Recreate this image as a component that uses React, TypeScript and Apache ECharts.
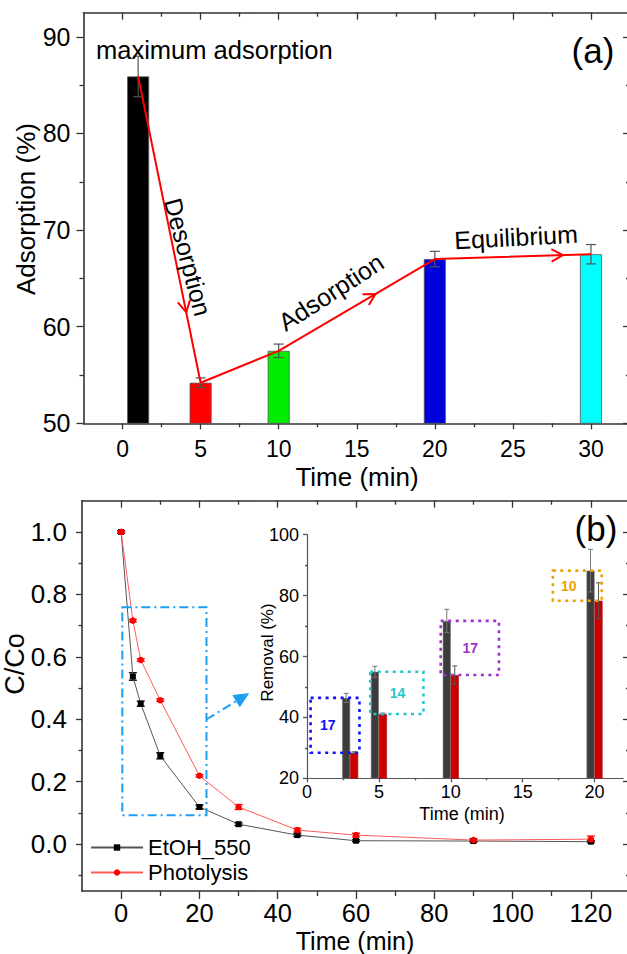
import React, { useEffect, useRef } from 'react';
import * as echarts from 'echarts';

// ---------- Panel (a): adsorption bars ----------
const adsTime = [1, 5, 10, 20, 30];
const adsValue = [85.9, 54.2, 57.5, 67.0, 67.5];
const adsError = [2.1, 0.5, 0.7, 0.8, 1.0];
const adsColors = ['#000000', '#ff0000', '#00ee00', '#0000dd', '#00ffff'];
const adsXTicks = [0, 5, 10, 15, 20, 25, 30];
const adsXMinor = [2.5, 7.5, 12.5, 17.5, 22.5, 27.5];
const adsYTicks = [50, 60, 70, 80, 90];
const adsYMinor = [55, 65, 75, 85];

// ---------- Panel (b): C/Co kinetics ----------
const kinTime = [0, 3, 5, 10, 20, 30, 45, 60, 90, 120];
const etohCC0 = [1.0, 0.537, 0.45, 0.283, 0.119, 0.064, 0.029, 0.011, 0.01, 0.008];
const etohErr = [0.004, 0.012, 0.008, 0.01, 0.006, 0.004, 0.004, 0.003, 0.003, 0.003];
const photoCC0 = [1.0, 0.716, 0.59, 0.461, 0.219, 0.119, 0.045, 0.029, 0.013, 0.016];
const photoErr = [0.004, 0.004, 0.004, 0.004, 0.004, 0.008, 0.006, 0.006, 0.005, 0.01];
const kinXTicks = [0, 20, 40, 60, 80, 100, 120];
const kinXMinor = [10, 30, 50, 70, 90, 110];
const kinYTicks = [0, 0.2, 0.4, 0.6, 0.8, 1.0];
const kinYMinor = [-0.1, 0.1, 0.3, 0.5, 0.7, 0.9];

// ---------- Inset: removal (%) ----------
const insetTime = [3, 5, 10, 20];
const insetEtoh = [46.4, 55.0, 71.7, 88.2];
const insetEtohErr = [1.5, 1.8, 3.8, 7.0];
const insetPhoto = [28.4, 41.1, 53.9, 78.3];
const insetPhotoErr = [0.3, 0.3, 3.0, 5.9];
const diffLabels = ['17', '14', '17', '10'];
const insetXTicks = [0, 5, 10, 15, 20];
const insetXMinor = [2.5, 7.5, 12.5, 17.5];
const insetYTicks = [20, 40, 60, 80, 100];
const insetYMinor = [30, 50, 70, 90];

const FONT = '"Liberation Sans", Arial, Helvetica, sans-serif';
const AX = '#333333';

function mkAxis(o: any) {
  return {
    type: 'value',
    gridIndex: o.grid,
    position: o.pos,
    min: o.min,
    max: o.max,
    axisLine: { show: o.line !== false, onZero: false, lineStyle: { color: o.color || AX, width: o.lw || 1.6 } },
    axisTick: { show: true, customValues: o.ticks, length: o.len, inside: !!o.inside, lineStyle: { color: o.color || AX, width: 1.3 } },
    axisLabel: o.labels
      ? { show: true, customValues: o.labels, fontSize: o.fs, margin: o.margin, color: '#000', fontFamily: FONT, formatter: o.fmt || ((v: number) => String(v)) }
      : { show: false },
    splitLine: { show: false },
  };
}

function errRender(color: string, cap: number, dx: number, lw: number) {
  return (params: any, api: any) => {
    const x = api.value(0), y = api.value(1), e = api.value(2);
    const top = api.coord([x, y + e]);
    const bot = api.coord([x, y - e]);
    const cx = top[0] + dx;
    const st = { stroke: color, lineWidth: lw };
    return {
      type: 'group',
      children: [
        { type: 'line', shape: { x1: cx, y1: top[1], x2: cx, y2: bot[1] }, style: st },
        { type: 'line', shape: { x1: cx - cap / 2, y1: top[1], x2: cx + cap / 2, y2: top[1] }, style: st },
        { type: 'line', shape: { x1: cx - cap / 2, y1: bot[1], x2: cx + cap / 2, y2: bot[1] }, style: st },
      ],
    };
  };
}

function txt(text: string, x: number, y: number, fs: number, rot = 0, extra: any = {}) {
  return {
    type: 'text',
    x, y,
    rotation: (rot * Math.PI) / 180,
    z: 100,
    style: { text, fontSize: fs, fontFamily: FONT, fill: '#000', textAlign: 'center', textVerticalAlign: 'middle', ...extra },
  };
}

function buildOption() {
  const GA = { left: 83.5, top: 12.7, width: 546.5, height: 410.6, containLabel: false, outerBoundsMode: 'none' };
  const GB = { left: 82, top: 500.7, width: 548, height: 390.3, containLabel: false, outerBoundsMode: 'none' };
  const GI = { left: 307, top: 534.7, width: 316.3, height: 243.6, containLabel: false, outerBoundsMode: 'none' };

  const xAxis = [
    mkAxis({ grid: 0, pos: 'bottom', min: -2.5, max: 32.5, ticks: adsXTicks, len: 6, labels: adsXTicks, fs: 23, margin: 14 }),
    mkAxis({ grid: 0, pos: 'top', min: -2.5, max: 32.5, ticks: adsXTicks, len: 7, inside: true }),
    mkAxis({ grid: 3, pos: 'bottom', min: -2.5, max: 32.5, ticks: adsXMinor, len: 4, line: false }),
    mkAxis({ grid: 3, pos: 'top', min: -2.5, max: 32.5, ticks: adsXMinor, len: 4, inside: true, line: false }),
    mkAxis({ grid: 1, pos: 'bottom', min: -10, max: 130, ticks: kinXTicks, len: 8, labels: kinXTicks, fs: 25.5, margin: 9 }),
    mkAxis({ grid: 1, pos: 'top', min: -10, max: 130, ticks: kinXTicks, len: 7, inside: true }),
    mkAxis({ grid: 4, pos: 'bottom', min: -10, max: 130, ticks: kinXMinor, len: 5, line: false }),
    mkAxis({ grid: 4, pos: 'top', min: -10, max: 130, ticks: kinXMinor, len: 4, inside: true, line: false }),
    mkAxis({ grid: 2, pos: 'bottom', min: 0, max: 22, ticks: insetXTicks, len: 4, labels: insetXTicks, fs: 18, margin: 5, color: '#555', lw: 1.2 }),
    mkAxis({ grid: 5, pos: 'bottom', min: 0, max: 22, ticks: insetXMinor, len: 2, line: false, color: '#555' }),
  ];
  const yAxis = [
    mkAxis({ grid: 0, pos: 'left', min: 50, max: 92.5, ticks: adsYTicks, len: 7, labels: adsYTicks, fs: 25, margin: 13 }),
    mkAxis({ grid: 0, pos: 'right', min: 50, max: 92.5, ticks: adsYTicks, len: 7, inside: true }),
    mkAxis({ grid: 3, pos: 'left', min: 50, max: 92.5, ticks: adsYMinor, len: 4, line: false }),
    mkAxis({ grid: 3, pos: 'right', min: 50, max: 92.5, ticks: adsYMinor, len: 4, inside: true, line: false }),
    mkAxis({ grid: 1, pos: 'left', min: -0.15, max: 1.1, ticks: kinYTicks, len: 6, labels: kinYTicks, fs: 26, margin: 15, fmt: (v: number) => v.toFixed(1) }),
    mkAxis({ grid: 1, pos: 'right', min: -0.15, max: 1.1, ticks: kinYTicks, len: 7, inside: true }),
    mkAxis({ grid: 4, pos: 'left', min: -0.15, max: 1.1, ticks: kinYMinor, len: 3.5, line: false }),
    mkAxis({ grid: 4, pos: 'right', min: -0.15, max: 1.1, ticks: kinYMinor, len: 4, inside: true, line: false }),
    mkAxis({ grid: 2, pos: 'left', min: 20, max: 100, ticks: insetYTicks, len: 4, labels: insetYTicks, fs: 18, margin: 8, color: '#555', lw: 1.2 }),
    mkAxis({ grid: 5, pos: 'left', min: 20, max: 100, ticks: insetYMinor, len: 2, line: false, color: '#555' }),
  ];

  const arrowSegs = [0, 2, 3];
  const arrowFrac = [0.77, 0.62, 0.82];

  const diffBoxX = [[0.25, 3.65], [4.4, 8.1], [9.3, 13.35], [17.1, 20.5]];
  const diffLabelX = [1.45, 6.3, 11.35, 18.2];
  const diffColors = ['#1010ff', '#22c6c6', '#a030d0', '#eba200'];

  const series: any[] = [
    // (a) bars
    {
      type: 'bar', xAxisIndex: 0, yAxisIndex: 0, barWidth: 22, clip: true, z: 2,
      data: adsTime.map((t, i) => ({ value: [t, adsValue[i]], itemStyle: { color: adsColors[i], borderColor: '#555', borderWidth: 0.8 } })),
    },
    {
      type: 'custom', xAxisIndex: 0, yAxisIndex: 0, z: 3, clip: false,
      data: adsTime.map((t, i) => [t, adsValue[i], adsError[i]]),
      encode: { x: 0, y: 1 },
      renderItem: errRender('#555', 10, 0, 1.2),
    },
    {
      type: 'line', xAxisIndex: 0, yAxisIndex: 0, z: 5, symbol: 'none',
      lineStyle: { color: '#ff0000', width: 2 },
      data: adsTime.map((t, i) => [t, adsValue[i]]),
    },
    {
      type: 'custom', xAxisIndex: 0, yAxisIndex: 0, z: 6, clip: false,
      data: arrowSegs.map((s) => [adsTime[s], adsValue[s]]),
      encode: { x: 0, y: 1 },
      renderItem: (params: any, api: any) => {
        const i = params.dataIndex;
        const s = arrowSegs[i];
        const p0 = api.coord([adsTime[s], adsValue[s]]);
        const p1 = api.coord([adsTime[s + 1], adsValue[s + 1]]);
        const f = arrowFrac[i];
        const tx = p0[0] + f * (p1[0] - p0[0]);
        const ty = p0[1] + f * (p1[1] - p0[1]);
        const ang = Math.atan2(p1[1] - p0[1], p1[0] - p0[0]);
        const L = 13, a = 0.5;
        const b1 = [tx - L * Math.cos(ang - a), ty - L * Math.sin(ang - a)];
        const b2 = [tx - L * Math.cos(ang + a), ty - L * Math.sin(ang + a)];
        return { type: 'polyline', shape: { points: [b1, [tx, ty], b2] }, style: { stroke: '#ff0000', lineWidth: 2, fill: 'none' } };
      },
    },
    // (b) lines
    {
      type: 'custom', xAxisIndex: 4, yAxisIndex: 4, z: 3, clip: false,
      data: kinTime.map((t, i) => [t, etohCC0[i], etohErr[i]]),
      encode: { x: 0, y: 1 },
      renderItem: errRender('#000', 8, 0, 1.3),
    },
    {
      type: 'custom', xAxisIndex: 4, yAxisIndex: 4, z: 3, clip: false,
      data: kinTime.map((t, i) => [t, photoCC0[i], photoErr[i]]),
      encode: { x: 0, y: 1 },
      renderItem: errRender('#ff0000', 8, 0, 1.3),
    },
    {
      name: 'EtOH_550', type: 'line', xAxisIndex: 4, yAxisIndex: 4, z: 4,
      symbol: 'rect', symbolSize: 6,
      itemStyle: { color: '#000' }, lineStyle: { color: '#555', width: 1 },
      data: kinTime.map((t, i) => [t, etohCC0[i]]),
    },
    {
      name: 'Photolysis', type: 'line', xAxisIndex: 4, yAxisIndex: 4, z: 4,
      symbol: 'circle', symbolSize: 6.5,
      itemStyle: { color: '#ff0000' }, lineStyle: { color: '#ff5a5a', width: 1 },
      data: kinTime.map((t, i) => [t, photoCC0[i]]),
    },
    // zoom box + arrow on (b)
    {
      type: 'custom', xAxisIndex: 4, yAxisIndex: 4, z: 7, clip: false,
      data: [[0, 0]],
      encode: { x: 0, y: 1 },
      renderItem: (params: any, api: any) => {
        const a = api.coord([0.3, 0.759]);
        const b = api.coord([21.8, 0.093]);
        const s = api.coord([21.85, 0.40]);
        const t = api.coord([32.5, 0.482]);
        const ang = Math.atan2(t[1] - s[1], t[0] - s[0]);
        const hl = 14, hw = 6.5;
        const bx = t[0] - hl * Math.cos(ang), by = t[1] - hl * Math.sin(ang);
        const nx = -Math.sin(ang) * hw, ny = Math.cos(ang) * hw;
        const col = '#1e9ef0';
        return {
          type: 'group',
          children: [
            { type: 'rect', shape: { x: a[0], y: a[1], width: b[0] - a[0], height: b[1] - a[1] }, style: { fill: 'none', stroke: col, lineWidth: 2, lineDash: [9, 4, 2, 4] } },
            { type: 'line', shape: { x1: s[0], y1: s[1], x2: bx, y2: by }, style: { stroke: col, lineWidth: 2, lineDash: [9, 4, 2, 4] } },
            { type: 'polygon', shape: { points: [[t[0], t[1]], [bx + nx, by + ny], [bx - nx, by - ny]] }, style: { fill: col, stroke: col, lineWidth: 1 } },
          ],
        };
      },
    },
    // inset bars
    {
      type: 'bar', xAxisIndex: 8, yAxisIndex: 8, barWidth: 8, barGap: '0%', clip: true, z: 2,
      itemStyle: { color: '#3c3c3c', borderColor: '#777', borderWidth: 0.6 },
      data: insetTime.map((t, i) => [t, insetEtoh[i]]),
    },
    {
      type: 'bar', xAxisIndex: 8, yAxisIndex: 8, barWidth: 8, barGap: '0%', clip: true, z: 2,
      itemStyle: { color: '#cc0000', borderColor: '#aa0000', borderWidth: 0.6 },
      data: insetTime.map((t, i) => [t, insetPhoto[i]]),
    },
    {
      type: 'custom', xAxisIndex: 8, yAxisIndex: 8, z: 3, clip: false,
      data: insetTime.map((t, i) => [t, insetEtoh[i], insetEtohErr[i]]),
      encode: { x: 0, y: 1 },
      renderItem: errRender('#777', 5, -4, 1),
    },
    {
      type: 'custom', xAxisIndex: 8, yAxisIndex: 8, z: 3, clip: false,
      data: insetTime.map((t, i) => [t, insetPhoto[i], insetPhotoErr[i]]),
      encode: { x: 0, y: 1 },
      renderItem: errRender('#555', 5, 4, 1),
    },
    {
      type: 'custom', xAxisIndex: 8, yAxisIndex: 8, z: 4, clip: false,
      data: insetTime.map((t, i) => [t, insetEtoh[i], insetPhoto[i]]),
      encode: { x: 0, y: 1 },
      renderItem: (params: any, api: any) => {
        const i = params.dataIndex;
        const hi = api.value(1), lo = api.value(2);
        const tl = api.coord([diffBoxX[i][0], hi]);
        const br = api.coord([diffBoxX[i][1], lo]);
        const lp = api.coord([diffLabelX[i], (hi + lo) / 2]);
        return {
          type: 'group',
          children: [
            { type: 'rect', shape: { x: tl[0], y: tl[1], width: br[0] - tl[0], height: br[1] - tl[1] }, style: { fill: 'none', stroke: diffColors[i], lineWidth: 2.6, lineDash: [3, 4.5] } },
            { type: 'text', x: lp[0], y: lp[1], style: { text: diffLabels[i], fill: diffColors[i], fontSize: 14, fontWeight: 'bold', fontFamily: FONT, textAlign: 'center', textVerticalAlign: 'middle' } },
          ],
        };
      },
    },
  ];

  return {
    animation: false,
    backgroundColor: '#ffffff',
    textStyle: { fontFamily: FONT },
    grid: [GA, GB, GI, GA, GB, GI],
    xAxis,
    yAxis,
    legend: {
      data: ['EtOH_550', 'Photolysis'],
      orient: 'vertical', left: 90, top: 836.5, padding: 0,
      itemWidth: 52, itemHeight: 8, itemGap: 3, selectedMode: false,
      textStyle: { fontSize: 22, color: '#000', fontFamily: FONT },
    },
    series,
    graphic: [
      txt('maximum adsorption', 96, 49.5, 25.5, 0, { textAlign: 'left' }),
      txt('Desorption', 188, 257, 25, -75),
      txt('Adsorption', 331, 292, 25, 33),
      txt('Equilibrium', 516, 237, 25, 3),
      txt('(a)', 593, 50, 35),
      txt('Adsorption (%)', 25.5, 209, 26, 90),
      txt('Time (min)', 357, 477, 26),
      txt('(b)', 596, 528, 35),
      txt('C/Co', 14.5, 664, 27, 90),
      txt('Time (min)', 355, 941, 25),
      txt('Removal (%)', 267.5, 652.5, 17, 90),
      txt('Time (min)', 462, 814, 18),
    ],
  };
}

export default function App() {
  const ref = useRef<HTMLDivElement>(null);
  useEffect(() => {
    if (!ref.current) return;
    const chart = echarts.init(ref.current, undefined, { renderer: 'svg' });
    chart.setOption(buildOption() as any);
    return () => chart.dispose();
  }, []);
  return <div ref={ref} style={{ position: 'absolute', left: 0, top: 0, width: 627, height: 954 }} />;
}
